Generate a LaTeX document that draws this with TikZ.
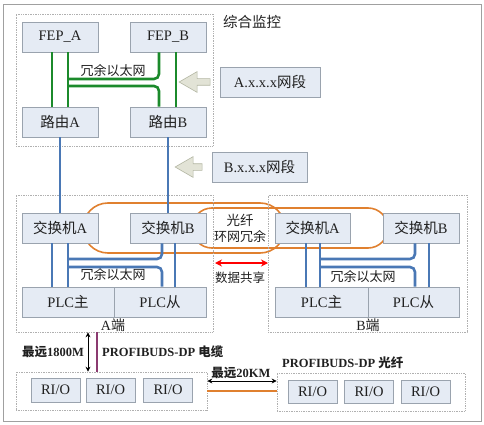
\documentclass[tikz,border=0pt]{standalone}
\usepackage{fontspec}
\setmainfont{Liberation Serif}
\newfontfamily\cjkfont{Noto Sans CJK SC}
\usepackage{tikz}
\usetikzlibrary{shapes.arrows}
\usetikzlibrary{arrows.meta}
\newcommand{\zh}[1]{{\cjkfont #1}}
\definecolor{boxfill}{HTML}{E5EBF4}
\definecolor{boxline}{HTML}{9AA3AE}
\definecolor{zoneline}{HTML}{B0B0B0}
\definecolor{ethgreen}{HTML}{1B8A2B}
\definecolor{ethblue}{HTML}{4A78B5}
\definecolor{fibre}{HTML}{E0802F}
\definecolor{cablepurple}{HTML}{8B3A70}
\definecolor{arrfill}{HTML}{E2E3D6}
\definecolor{arrline}{HTML}{B3B6A3}
\definecolor{frame}{HTML}{A0A0A0}
\definecolor{txt}{HTML}{202020}
\tikzset{
  devbox/.style={draw=boxline, fill=boxfill, line width=0.8pt, minimum width=76pt, minimum height=30pt, inner sep=0pt, text=txt, font=\fontsize{14.5}{16}\selectfont},
  plcbox/.style={devbox, minimum width=92pt},
  riobox/.style={devbox, minimum width=49pt, minimum height=24pt},
  zonebox/.style={draw=zoneline, densely dotted, line width=0.7pt, inner sep=0pt},
  gline/.style={draw=ethgreen, line width=2.6pt},
  bline/.style={draw=ethblue, line width=2.6pt},
  oline/.style={draw=fibre, line width=1.6pt},
  netarrow/.style={single arrow, draw=arrline, fill=arrfill, line width=0.6pt, minimum width=13pt, inner xsep=0pt, inner ysep=3pt, single arrow tip angle=60, shape border rotate=180},
  lbl/.style={inner sep=0pt, text=txt, font=\fontsize{13}{15}\selectfont},
  blbl/.style={inner sep=0pt, text=txt, font=\bfseries\fontsize{12.5}{14}\selectfont},
  dimarrow/.style={draw=black, line width=0.8pt, {Stealth[length=5pt,width=5pt]}-{Stealth[length=5pt,width=5pt]}},
  sharearrow/.style={draw=red, line width=1.3pt, {Stealth[length=7pt,width=7pt]}-{Stealth[length=7pt,width=7pt]}},
}

\begin{document}
\begin{tikzpicture}[x=1pt,y=-1pt]
    \useasboundingbox (0,0) rectangle (484,425);
    \draw[draw=frame, line width=0.8pt] (3,4) rectangle (481,421);

    % fibre ring, under the switches
    \draw[oline, rounded corners=25pt] (83,203) rectangle (285,253);
    \draw[oline, rounded corners=20pt] (192,208) rectangle (388,248);

    % monitoring zone
    \node[zonebox, minimum width=197pt, minimum height=132pt] (mon) at (114.5,80) {};
    \node[lbl, font=\fontsize{14.5}{16}\selectfont] (monlbl) at (252,22) {\zh{综合监控}};
    \node[devbox] (fepA) at (60,37) {FEP\_A};
    \node[devbox] (fepB) at (168,37) {FEP\_B};
    \node[devbox] (rtA) at (60,122) {\zh{路由}A};
    \node[devbox] (rtB) at (168,122) {\zh{路由}B};
    \node[lbl] (ethtop) at (113,71) {\zh{冗余以太网}};
    \coordinate (gjt) at (68,79);
    \coordinate (gjb) at (68,86);
    \draw[gline] ([xshift=-8pt]fepA.south) -- ([xshift=-8pt]rtA.north);
    \draw[gline] ([xshift=8pt]fepA.south) -- ([xshift=8pt]rtA.north);
    \draw[gline] ([xshift=8pt]fepB.south) -- ([xshift=8pt]rtB.north);
    \draw[gline, rounded corners=5pt] ([xshift=-9pt]fepB.south) |- (gjt);
    \draw[gline, rounded corners=5pt] ([xshift=-9pt]rtB.north) |- (gjb);

    % network segments
    \node[devbox, minimum width=100pt] (netA) at (270,82) {A.x.x.x\zh{网段}};
    \node[netarrow, minimum height=31pt] (arrA) at (197.5,82) {};
    \node[devbox, minimum width=95pt] (netB) at (259.5,167) {B.x.x.x\zh{网段}};
    \node[netarrow, minimum height=27pt] (arrB) at (191.5,167) {};

    % A side
    \node[zonebox, minimum width=197pt, minimum height=137pt] (sideA) at (114.5,263.5) {};
    \node[devbox] (swA1) at (60,228) {\zh{交换机}A};
    \node[devbox] (swB1) at (168,228) {\zh{交换机}B};
    \node[plcbox] (pM1) at (68,302) {PLC\zh{主}};
    \node[plcbox] (pS1) at (160,302) {PLC\zh{从}};
    \node[lbl] (ethA) at (113,275) {\zh{冗余以太网}};
    \node[lbl, font=\fontsize{14}{16}\selectfont] (endA) at (113,325) {A\zh{端}};
    \coordinate (ajt) at (68,259);
    \coordinate (ajb) at (68,267);
    \draw[bline] (rtA) -- (swA1);
    \draw[bline] (rtB) -- (swB1);
    \draw[bline] ([xshift=-8pt]swA1.south) -- ([xshift=-16pt]pM1.north);
    \draw[bline] ([xshift=8pt]swA1.south) -- (pM1.north);
    \draw[bline] ([xshift=7pt]swB1.south) -- ([xshift=15pt]pS1.north);
    \draw[bline, rounded corners=5pt] ([xshift=-6pt]swB1.south) |- (ajt);
    \draw[bline, rounded corners=5pt] ([xshift=2pt]pS1.north) |- (ajb);

    % B side
    \node[zonebox, minimum width=199pt, minimum height=137pt] (sideB) at (367.5,263.5) {};
    \node[devbox, minimum width=75pt] (swA2) at (312.5,228) {\zh{交换机}A};
    \node[devbox] (swB2) at (421,228) {\zh{交换机}B};
    \node[plcbox, minimum width=93pt] (pM2) at (321.5,302) {PLC\zh{主}};
    \node[plcbox, minimum width=91pt] (pS2) at (413.5,302) {PLC\zh{从}};
    \node[lbl] (ethB) at (363,277) {\zh{冗余以太网}};
    \node[lbl, font=\fontsize{14}{16}\selectfont] (endB) at (368,325) {B\zh{端}};
    \coordinate (bjt) at (320,259);
    \coordinate (bjb) at (320,267);
    \draw[bline] ([xshift=-6.5pt]swA2.south) -- ([xshift=-15.5pt]pM2.north);
    \draw[bline] ([xshift=7.5pt]swA2.south) -- ([xshift=-1.5pt]pM2.north);
    \draw[bline] ([xshift=8pt]swB2.south) -- ([xshift=15.5pt]pS2.north);
    \draw[bline, rounded corners=5pt] ([xshift=-6pt]swB2.south) |- (bjt);
    \draw[bline, rounded corners=5pt] ([xshift=1.5pt]pS2.north) |- (bjb);

    % ring and sharing
    \node[lbl, font=\fontsize{13.5}{15}\selectfont] (ring1) at (240,220) {\zh{光纤}};
    \node[lbl] (ring2) at (240,237) {\zh{环网冗余}};
    \coordinate (dsL) at (215,263);
    \coordinate (dsR) at (268,263);
    \draw[sharearrow] (dsL) -- (dsR);
    \node[lbl, font=\fontsize{12.5}{14}\selectfont] (share) at (240,278) {\zh{数据共享}};

    % remote I/O
    \node[zonebox, minimum width=191pt, minimum height=38pt] (rioL) at (111.5,391) {};
    \node[riobox] (rio1) at (55.5,390) {RI/O};
    \node[riobox] (rio2) at (110.5,390) {RI/O};
    \node[riobox] (rio3) at (168,390) {RI/O};
    \node[zonebox, minimum width=188pt, minimum height=38pt] (rioR) at (371,392) {};
    \node[riobox, minimum height=23pt] (rio4) at (312.5,391.5) {RI/O};
    \node[riobox, minimum height=23pt] (rio5) at (369,391.5) {RI/O};
    \node[riobox, minimum height=23pt] (rio6) at (425.5,391.5) {RI/O};

    \coordinate (lenA) at (88,350);
    \coordinate (cab) at (97,350);
    \coordinate (km) at (240,381);
    \coordinate (fib) at (240,391);
    \draw[dimarrow] (sideA.south -| lenA) -- (rioL.north -| lenA);
    \draw[draw=cablepurple, line width=1.4pt] (sideA.south -| cab) -- (rioL.north -| cab);
    \draw[dimarrow] (rioL.east |- km) -- (rioR.west |- km);
    \draw[oline] (rioL.east |- fib) -- (rioR.west |- fib);
    \node[blbl] (len1) at (53,352) {\zh{最远}1800M};
    \node[blbl, anchor=west] (dp1) at (102,352) {PROFIBUDS-DP \zh{电缆}};
    \node[blbl] (len2) at (241,373) {\zh{最远}20KM};
    \node[blbl, anchor=west] (dp2) at (282,363) {PROFIBUDS-DP \zh{光纤}};
\end{tikzpicture}
\end{document}
